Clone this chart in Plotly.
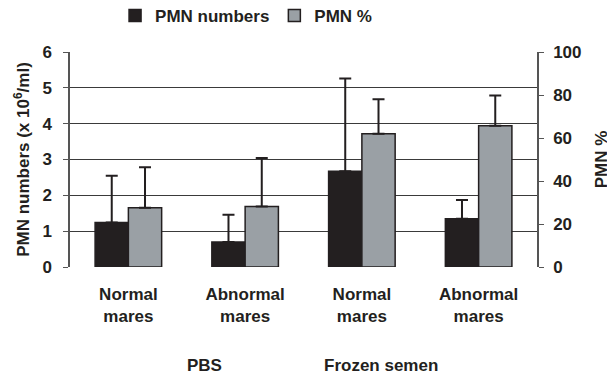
import plotly.graph_objects as go

categories = ["Normal<br>mares", "Abnormal<br>mares", "Normal<br>mares", "Abnormal<br>mares"]
groups = ["PBS", "Frozen semen"]
pmn_numbers = [1.24, 0.70, 2.67, 1.35]
pmn_numbers_err = [1.31, 0.76, 2.59, 0.52]
pmn_pct = [27.6, 28.1, 62.0, 65.7]
pmn_pct_err = [18.8, 22.6, 16.0, 14.1]
left_ticks = [0, 1, 2, 3, 4, 5, 6]
right_ticks = [0, 20, 40, 60, 80, 100]

x = list(range(len(categories)))
dark = "#231f20"
grey = "#9aa0a5"
font = dict(family="Liberation Sans, Arial, sans-serif", size=17, color=dark, weight="bold")
bw = 0.285

fig = go.Figure()
fig.add_trace(go.Bar(
    x=x, y=pmn_numbers, name="PMN numbers", width=bw, offset=-bw,
    marker=dict(color=dark, line=dict(color=dark, width=1.5)),
    error_y=dict(type="data", array=pmn_numbers_err, symmetric=False,
                 arrayminus=[0] * 4, color=dark, thickness=2, width=6),
    yaxis="y"))
fig.add_trace(go.Bar(
    x=x, y=pmn_pct, name="PMN %", width=bw, offset=0,
    marker=dict(color=grey, line=dict(color=dark, width=1.5)),
    error_y=dict(type="data", array=pmn_pct_err, symmetric=False,
                 arrayminus=[0] * 4, color=dark, thickness=2, width=6),
    yaxis="y2"))

fig.update_layout(
    width=607, height=367,
    margin=dict(l=62, r=78, t=44, b=108, autoexpand=False),
    paper_bgcolor="white", plot_bgcolor="white",
    font=font,
    showlegend=True,
    legend=dict(orientation="h", x=0.377, xanchor="center", y=0.978, yanchor="middle",
                yref="container", font=font, itemwidth=30, traceorder="normal"),
    xaxis=dict(tickmode="array", tickvals=x, ticktext=categories, range=[-0.5, 3.5],
               showgrid=False, zeroline=False, showline=False, ticks="", tickfont=font,
               automargin=False, ticklabelstandoff=15),
    yaxis=dict(range=[0, 6], tickvals=left_ticks, showgrid=True, gridcolor="#3a3a3a",
               gridwidth=1, zeroline=False, showline=True, linecolor="#555", linewidth=1.5,
               ticks="outside", ticklen=5, tickcolor="#555", tickfont=font, automargin=False,
               ticklabelstandoff=8,
               title=dict(text="PMN numbers (x 10<sup>6</sup>/ml)", font=font, standoff=8)),
    yaxis2=dict(range=[0, 100], tickvals=right_ticks, overlaying="y", side="right",
                showgrid=False, zeroline=False, showline=True, linecolor="#555", linewidth=1.5,
                ticks="outside", ticklen=5, tickcolor="#555", tickfont=font, automargin=False,
                ticklabelstandoff=6,
                title=dict(text="PMN %", font=font, standoff=15)),
    annotations=[
        dict(text=groups[0], x=0.287, y=-0.456, xref="paper", yref="paper",
             showarrow=False, font=font, xanchor="center", yanchor="middle"),
        dict(text=groups[1], x=0.666, y=-0.456, xref="paper", yref="paper",
             showarrow=False, font=font, xanchor="center", yanchor="middle"),
    ],
)

fig.write_html("out.html")
